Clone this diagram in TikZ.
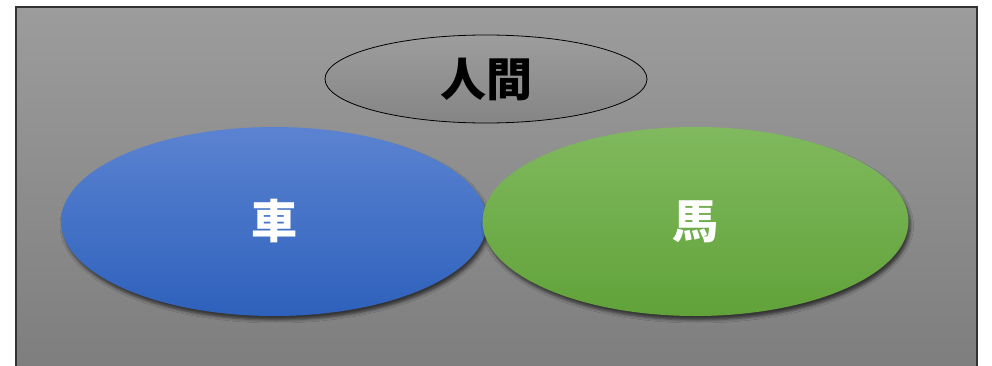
\documentclass[tikz,border=0pt]{standalone}
\usepackage{fontspec}
\newfontfamily\cjk{Noto Sans CJK JP}
\usetikzlibrary{shapes.geometric,shadows.blur}
\definecolor{bgtop}{HTML}{9C9C9C}
\definecolor{bgbot}{HTML}{7E7E7E}
\definecolor{bluetop}{HTML}{5B83D1}
\definecolor{bluebot}{HTML}{2E61BC}
\definecolor{greentop}{HTML}{80B95E}
\definecolor{greenbot}{HTML}{61A239}
\definecolor{humtop}{HTML}{9D9D9D}
\definecolor{humbot}{HTML}{858585}
\tikzset{
  bigoval/.style={ellipse, inner sep=0pt, minimum width=426pt, minimum height=189pt,
    font=\cjk\bfseries\fontsize{46}{50}\selectfont, text=white,
    blur shadow={shadow xshift=2pt, shadow yshift=-4pt, shadow blur radius=3pt, shadow opacity=60}},
  humoval/.style={ellipse, inner sep=0pt, minimum width=322pt, minimum height=88pt,
    draw=black, line width=0.8pt, top color=humtop, bottom color=humbot,
    font=\cjk\bfseries\fontsize{46}{50}\selectfont, text=black},
}
\begin{document}
\begin{tikzpicture}[x=1pt,y=1pt]
\useasboundingbox (0,0) rectangle (992,365);
\fill[white] (0,0) rectangle (992,365);
\begin{scope}
\clip (0,0) rectangle (992,365);
\shade[top color=bgtop, bottom color=bgbot] (16,358) rectangle (977,-3);
\draw[draw=black!80, line width=1.6pt] (16,-3) -- (16,358) -- (977,358) -- (977,-3);
\end{scope}
\node[humoval] (hum) at (486,286) {人間};
\node[bigoval, top color=bluetop, bottom color=bluebot] (car) at (274,143.5) {車};
\node[bigoval, top color=greentop, bottom color=greenbot] (horse) at (695.5,143.5) {馬};
\end{tikzpicture}
\end{document}
